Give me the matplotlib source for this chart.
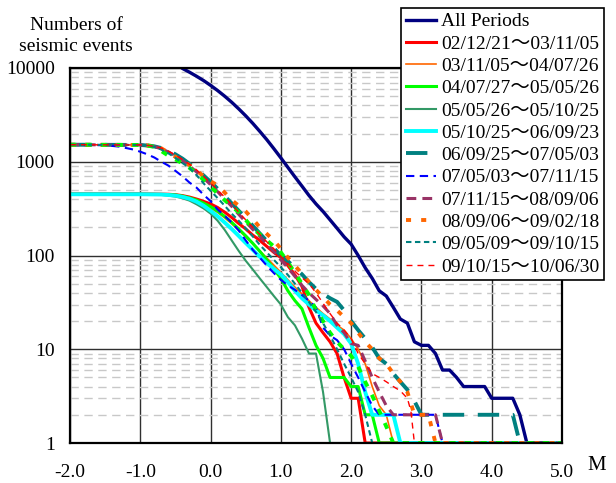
import matplotlib
matplotlib.use("Agg")
import matplotlib.pyplot as plt
from matplotlib.ticker import LogLocator, FixedLocator, FixedFormatter, NullFormatter

plt.rcParams['font.family'] = ['Liberation Serif', 'Noto Sans CJK JP', 'DejaVu Sans']

# ---------------- data (magnitude M, cumulative number N) ----------------
labels = ["All Periods",
          "02/12/21～03/11/05", "03/11/05～04/07/26", "04/07/27～05/05/26",
          "05/05/26～05/10/25", "05/10/25～06/09/23", "06/09/25～07/05/03",
          "07/05/03～07/11/15", "07/11/15～08/09/06", "08/09/06～09/02/18",
          "09/02/18～09/05/09",
          "09/05/09～09/10/15", "09/10/15～10/06/30"]

m_all = [-0.5, -0.4, -0.3, -0.2, -0.1, 0.0, 0.1, 0.2, 0.3, 0.4, 0.5, 0.6, 0.7, 0.8, 0.9, 1.0,
         1.1, 1.2, 1.3, 1.4, 1.5, 1.6, 1.7, 1.8, 1.9, 2.0, 2.1, 2.2, 2.3, 2.4, 2.5, 2.6, 2.7,
         2.8, 2.9, 3.0, 3.1, 3.2, 3.3, 3.4, 3.5, 3.6, 3.7, 3.8, 3.9, 4.0, 4.1, 4.2, 4.3, 4.4, 4.5, 5.0]
n_all = [11500, 9890, 9020, 8170, 7350, 6530, 5750, 5010, 4315, 3670, 3090, 2570, 2110, 1720,
         1380, 1100, 870, 690, 550, 437, 355, 295, 240, 195, 158, 132, 100, 74, 57, 42, 37, 28,
         21, 19, 12, 11, 11, 9, 6, 6, 5, 4, 4, 4, 4, 3, 3, 3, 3, 2, 1, 1]

m_p1 = [-2.0, -1.0, -0.6, -0.5, -0.4, -0.3, -0.2, -0.1, 0.0, 0.1, 0.2, 0.3, 0.4, 0.5, 0.6, 0.7,
        0.8, 0.9, 1.0, 1.1, 1.2, 1.3, 1.4, 1.5, 1.6, 1.7, 1.8, 1.9, 2.0, 2.1, 2.2, 5.0]
n_p1 = [455, 455, 450, 445, 435, 420, 400, 378, 355, 325, 290, 255, 220, 192, 165, 145, 125,
        108, 95, 78, 62, 47, 28, 19, 15, 12, 9, 5, 3, 3, 1, 1]

m_p2 = [-2.0, -1.0, -0.6, -0.5, -0.4, -0.3, -0.2, -0.1, 0.0, 0.1, 0.2, 0.3, 0.4, 0.5, 0.6, 0.7,
        0.8, 0.9, 1.0, 1.1, 1.2, 1.3, 1.4, 1.5, 1.6, 1.7, 1.8, 1.9, 2.0, 2.1, 2.2, 2.3, 2.4,
        2.5, 2.6, 5.0]
n_p2 = [450, 450, 447, 440, 428, 410, 385, 355, 322, 288, 252, 218, 186, 158, 133, 112, 94,
        79, 66, 55, 46, 39, 33, 28, 24, 21, 18, 16, 13, 10, 7, 4, 2.5, 2, 1, 1]

m_p3 = [-2.0, -1.0, -0.6, -0.5, -0.4, -0.3, -0.2, -0.1, 0.0, 0.1, 0.2, 0.3, 0.4, 0.5, 0.6, 0.7,
        0.8, 0.9, 1.0, 1.1, 1.2, 1.3, 1.4, 1.5, 1.6, 1.7, 1.8, 1.9, 2.0, 2.1, 2.2, 2.3, 2.4, 5.0]
n_p3 = [450, 450, 447, 442, 430, 412, 390, 362, 332, 298, 262, 226, 192, 162, 135, 111, 90,
        72, 57, 42, 33, 27, 17, 11, 8, 5, 5, 5, 4, 4, 2, 2, 1, 1]

m_p4 = [-2.0, -1.0, -0.8, -0.7, -0.6, -0.5, -0.4, -0.3, -0.2, -0.1, 0.0, 0.1, 0.2, 0.3, 0.4,
        0.5, 0.6, 0.7, 0.8, 0.9, 1.0, 1.1, 1.2, 1.3, 1.4, 1.5, 1.6, 1.7, 5.0]
n_p4 = [450, 450, 448, 443, 435, 425, 408, 385, 352, 318, 280, 235, 188, 145, 112, 88, 71,
        57, 46, 37, 30, 22, 18, 13, 9, 9, 3.5, 1, 1]

m_p5 = [-2.0, -1.0, -0.7, -0.6, -0.5, -0.4, -0.3, -0.2, -0.1, 0.0, 0.1, 0.2, 0.3, 0.4, 0.5,
        0.6, 0.7, 0.8, 0.9, 1.0, 1.1, 1.2, 1.3, 1.4, 1.5, 1.6, 1.7, 1.8, 1.9, 2.0, 2.1, 2.2,
        2.3, 2.4, 2.5, 2.6, 2.7, 5.0]
n_p5 = [450, 450, 447, 442, 435, 422, 403, 375, 340, 300, 262, 225, 192, 162, 136, 115, 97,
        83, 72, 63, 52, 42, 35, 30, 26, 23, 20, 17, 14.5, 11.5, 7, 3.5, 2, 2, 2, 2, 1, 1]

m_p6 = [-2.0, -1.0, -0.9, -0.8, -0.7, -0.6, -0.5, -0.4, -0.3, -0.2, -0.1, 0.0, 0.1, 0.2, 0.3,
        0.4, 0.5, 0.6, 0.7, 0.8, 0.9, 1.0, 1.1, 1.2, 1.3, 1.4, 1.5, 1.6, 1.7, 1.8, 1.9, 2.0,
        2.1, 2.2, 2.3, 2.4, 2.5, 2.6, 2.7, 2.8, 2.9, 3.0, 4.3, 4.4, 5.0]
n_p6 = [1520, 1510, 1490, 1460, 1400, 1310, 1200, 1080, 950, 830, 715, 610, 515, 430, 360,
        300, 250, 208, 172, 143, 120, 100, 87, 74, 63, 52, 44, 39, 35, 32, 26, 20, 16, 13,
        10.5, 8, 7, 5.5, 4.5, 3.7, 2.8, 2, 2, 1, 1]

m_p7 = [-2.0, -1.5, -1.3, -1.2, -1.1, -1.0, -0.9, -0.8, -0.7, -0.6, -0.5, -0.4, -0.3, -0.2,
        -0.1, 0.0, 0.1, 0.2, 0.3, 0.4, 0.5, 0.6, 0.7, 0.8, 0.9, 1.0, 1.1, 1.2, 1.3, 1.4, 1.5,
        1.6, 1.7, 1.8, 1.9, 2.0, 2.1, 2.2, 2.3, 2.4, 3.2, 3.3, 5.0]
n_p7 = [1510, 1500, 1450, 1400, 1350, 1280, 1200, 1110, 1000, 910, 800, 700, 600, 530, 445,
        380, 310, 265, 225, 185, 145, 115, 95, 78, 65, 55, 48, 43, 38, 33, 28, 17, 14, 12.5,
        10, 7, 5, 3.5, 2.5, 2, 2, 1, 1]

m_p8 = [-2.0, -1.0, -0.9, -0.8, -0.7, -0.6, -0.5, -0.4, -0.3, -0.2, -0.1, 0.0, 0.1, 0.2, 0.3,
        0.4, 0.5, 0.6, 0.7, 0.8, 0.9, 1.0, 1.1, 1.2, 1.3, 1.4, 1.5, 1.6, 1.7, 1.8, 1.9, 2.0,
        2.1, 2.2, 2.3, 2.4, 2.5, 2.6, 3.2, 3.3, 5.0]
n_p8 = [1520, 1510, 1490, 1450, 1380, 1270, 1150, 1030, 900, 780, 670, 570, 480, 400, 335,
        275, 228, 190, 160, 133, 110, 90, 74, 60, 48, 40, 34, 29, 24, 18, 15, 11.5, 11, 7.5,
        5, 3.5, 2.5, 2, 2, 1, 1]

m_p9 = [-2.0, -1.0, -0.9, -0.8, -0.7, -0.6, -0.5, -0.4, -0.3, -0.2, -0.1, 0.0, 0.1, 0.2, 0.3,
        0.4, 0.5, 0.6, 0.7, 0.8, 0.9, 1.0, 1.1, 1.2, 1.3, 1.4, 1.5, 1.6, 1.7, 1.8, 1.9, 2.0,
        2.1, 2.2, 2.3, 2.4, 2.5, 2.6, 2.7, 2.8, 2.9, 3.1, 3.2, 5.0]
n_p9 = [1520, 1510, 1495, 1460, 1390, 1250, 1130, 1020, 920, 810, 700, 620, 560, 470, 390,
        340, 295, 245, 200, 170, 145, 118, 95, 78, 64, 52, 43, 36, 30, 26, 22, 19, 15, 12,
        10, 8, 7, 5.5, 4.5, 3.5, 2, 2, 1, 1]

m_p10 = [-2.0, -1.0, -0.9, -0.8, -0.7, -0.6, -0.5, -0.4, -0.3, -0.2, -0.1, 0.0, 0.1, 0.2,
         0.3, 0.4, 0.5, 0.6, 0.7, 0.8, 0.9, 1.0, 1.1, 1.2, 1.3, 1.4, 1.5, 1.6, 1.7, 1.8, 1.9,
         2.0, 2.1, 2.2, 2.3, 2.4, 2.5, 2.6, 5.0]
n_p10 = [1520, 1510, 1490, 1440, 1300, 1160, 1060, 960, 860, 750, 640, 540, 460, 390, 335,
         290, 240, 195, 168, 145, 125, 108, 85, 65, 50, 38, 26, 20, 15, 12, 10, 8.5, 6.5,
         4.5, 3.2, 2.2, 1.5, 1, 1]

m_p11 = [-2.0, -1.0, -0.9, -0.8, -0.7, -0.6, -0.5, -0.4, -0.3, -0.2, -0.1, 0.0, 0.1, 0.2,
         0.3, 0.4, 0.5, 0.6, 0.7, 0.8, 0.9, 1.0, 1.1, 1.2, 1.3, 1.4, 1.5, 1.6, 1.7, 1.8, 1.9,
         2.0, 2.1, 2.2, 2.3, 5.0]
n_p11 = [1520, 1510, 1490, 1440, 1350, 1230, 1100, 970, 860, 720, 590, 490, 410, 340, 280,
         235, 195, 160, 130, 108, 90, 75, 62, 50, 40, 32, 25, 19, 14, 10, 7, 5, 3.5, 2, 1, 1]

m_p12 = [-2.0, -1.0, -0.9, -0.8, -0.7, -0.6, -0.5, -0.4, -0.3, -0.2, -0.1, 0.0, 0.1, 0.2,
         0.3, 0.4, 0.5, 0.6, 0.7, 0.8, 0.9, 1.0, 1.1, 1.2, 1.3, 1.4, 1.5, 1.6, 1.7, 1.8, 1.9,
         2.0, 2.1, 2.2, 2.3, 2.4, 2.5, 2.6, 2.7, 2.8, 2.85, 2.9, 5.0]
n_p12 = [1520, 1510, 1495, 1460, 1400, 1300, 1180, 1060, 940, 820, 700, 590, 500, 420, 350,
         290, 240, 200, 168, 140, 118, 98, 82, 68, 58, 50, 40, 31, 24, 19, 16, 13, 9, 7, 5.5,
         5, 4.5, 4, 3.6, 3, 2.2, 1, 1]

x_ticks = [-2.0, -1.0, 0.0, 1.0, 2.0, 3.0, 4.0, 5.0]
x_tick_labels = ["-2.0", "-1.0", "0.0", "1.0", "2.0", "3.0", "4.0", "5.0"]
y_ticks = [1, 10, 100, 1000, 10000]
y_tick_labels = ["1", "10", "100", "1000", "10000"]

series = [
    (m_all, n_all, dict(color="#000080", lw=2.4, ls="-")),
    (m_p1, n_p1, dict(color="#FF0000", lw=2.2, ls="-")),
    (m_p2, n_p2, dict(color="#FF6600", lw=1.2, ls="-")),
    (m_p3, n_p3, dict(color="#00FF00", lw=2.2, ls="-")),
    (m_p4, n_p4, dict(color="#339966", lw=1.5, ls="-")),
    (m_p5, n_p5, dict(color="#00FFFF", lw=2.8, ls="-")),
    (m_p6, n_p6, dict(color="#008080", lw=2.8, ls=(0, (5.5, 3.5)))),
    (m_p7, n_p7, dict(color="#0000FF", lw=1.5, ls=(0, (4.0, 2.6)))),
    (m_p8, n_p8, dict(color="#993366", lw=2.2, ls=(0, (3.2, 2.0)))),
    (m_p9, n_p9, dict(color="#FF6600", lw=2.8, ls=(0, (1.3, 2.6)))),
    (m_p10, n_p10, dict(color="#00FF00", lw=2.8, ls=(0, (1.6, 2.4)))),
    (m_p11, n_p11, dict(color="#008080", lw=1.5, ls=(0, (2.6, 1.7)))),
    (m_p12, n_p12, dict(color="#FF0000", lw=1.0, ls=(0, (4.3, 3.6)))),
]

fig = plt.figure(figsize=(6.16, 4.83), dpi=100)
ax = fig.add_axes([70 / 616, 40 / 483, 492 / 616, 375 / 483])

handles = []
for (m, n, st), lab in zip(series, labels):
    if lab == "09/02/18～09/05/09":
        lab = "_nolegend_"
    ln, = ax.plot(m, n, label=lab, solid_joinstyle="round", dash_capstyle="butt", **st)
    if not lab.startswith("_"):
        handles.append(ln)

ax.set_yscale("log")
ax.set_xlim(-2.0, 5.0)
ax.set_ylim(1, 10000)

ax.xaxis.set_major_locator(FixedLocator(x_ticks))
ax.xaxis.set_major_formatter(FixedFormatter(x_tick_labels))
ax.yaxis.set_major_locator(FixedLocator(y_ticks))
ax.yaxis.set_major_formatter(FixedFormatter(y_tick_labels))
ax.yaxis.set_minor_locator(LogLocator(base=10, subs=range(2, 10), numticks=20))
ax.yaxis.set_minor_formatter(NullFormatter())

ax.grid(which="major", axis="both", color="#303030", lw=1.0, ls="-")
ax.grid(which="minor", axis="y", color="#c8c8c8", lw=1.0, ls=(0, (6, 4)))
ax.set_axisbelow(True)

ax.tick_params(axis="both", which="both", length=0)
ax.tick_params(axis="x", pad=15, labelsize=14)
ax.tick_params(axis="y", pad=11, labelsize=14)

for side in ["left", "bottom", "top", "right"]:
    ax.spines[side].set_color("black")
    ax.spines[side].set_linewidth(1.6)

fig.text(76 / 616, 1 - 36 / 483, "Numbers of\nseismic events", ha="center", va="center",
         fontsize=14, linespacing=1.25)
fig.text(597 / 616, 1 - 466 / 483, "M", ha="center", va="center", fontsize=15)

leg = fig.legend(handles=handles, loc="upper left", bbox_to_anchor=(401 / 616, 1 - 8 / 483),
                 bbox_transform=fig.transFigure, fontsize=14, frameon=True, fancybox=False,
                 framealpha=1, edgecolor="black", borderaxespad=0, borderpad=0.25,
                 labelspacing=0.24, handlelength=1.55, handletextpad=0.25)
leg.get_frame().set_linewidth(1.2)

fig.savefig("out.png", dpi=100)
